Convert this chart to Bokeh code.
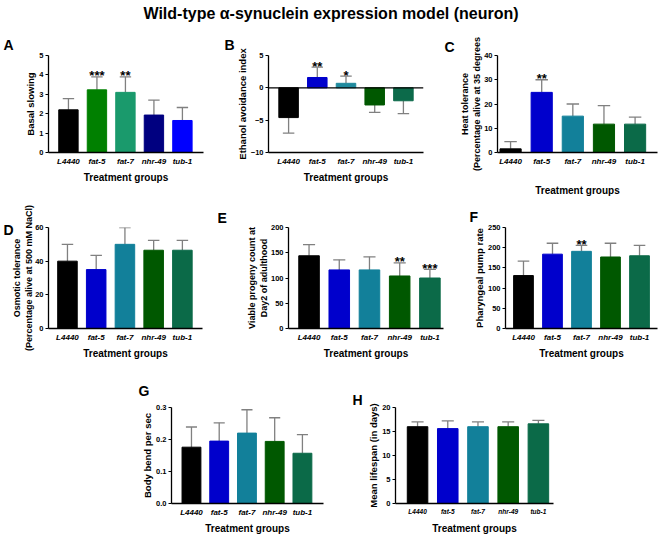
from bokeh.plotting import figure
from bokeh.layouts import column, row
from bokeh.models import (Range1d, FixedTicker, Span, ColumnDataSource,
                          NumeralTickFormatter, Spacer)
from bokeh.embed import file_html
from bokeh.resources import INLINE
from bokeh.core.properties import value

FONT = "Liberation Sans"
TITLE = "Wild-type α-synuclein expression model (neuron)"
XLABEL = "Treatment groups"

groups = ["L4440", "fat-5", "fat-7", "nhr-49", "tub-1"]

# Panel A - basal slowing
a_mean = [2.2, 3.23, 3.1, 1.93, 1.65]
a_sd = [0.58, 0.67, 0.8, 0.77, 0.67]
a_stars = ["", "***", "**", "", ""]
a_colors = ["#000000", "#008000", "#1a9a6c", "#000080", "#0000ff"]

# Panel B - ethanol avoidance
b_mean = [-4.6, 1.6, 0.7, -2.65, -2.0]
b_sd = [2.4, 1.6, 1.1, 1.15, 2.0]
b_stars = ["", "**", "*", "", ""]
b_colors = ["#000000", "#0000cc", "#1f8a9e", "#005800", "#0c6a4a"]

# common colours for C-H
c_colors = ["#000000", "#0000cc", "#12809a", "#005800", "#0b6a48"]

# Panel C - heat tolerance
c_mean = [1.5, 24.8, 15.0, 11.7, 11.7]
c_sd = [3.0, 5.2, 5.0, 7.6, 2.9]
c_stars = ["", "**", "", "", ""]

# Panel D - osmotic tolerance
d_mean = [40.0, 35.0, 50.0, 46.5, 46.5]
d_sd = [10.0, 8.5, 10.0, 5.8, 5.8]
d_stars = ["", "", "", "", ""]

# Panel E - viable progeny
e_mean = [144, 116, 116, 104, 100]
e_sd = [22, 20, 26, 26, 17]
e_stars = ["", "", "", "**", "***"]

# Panel F - pharyngeal pumping
f_mean = [131, 184, 191, 177, 180]
f_sd = [36, 27, 15, 34, 26]
f_stars = ["", "", "**", "", ""]

# Panel G - body bends
g_mean = [0.176, 0.195, 0.220, 0.194, 0.157]
g_sd = [0.063, 0.057, 0.073, 0.074, 0.058]
g_stars = ["", "", "", "", ""]

# Panel H - lifespan
h_mean = [16.0, 15.6, 16.0, 16.0, 16.6]
h_sd = [1.0, 1.6, 1.0, 1.0, 0.7]
h_stars = ["", "", "", "", ""]


def panel(letter, mean, sd, stars, colors, ylabel, yticks, yrange,
          fig, frame, pads, letter_x, letter_standoff, xlab_standoff=3,
          xtick_size="8px", ylab_size="9.5px", ylab_standoff=0, yfmt=None,
          zero_line=False):
    fx, fy, fw, fh = fig
    fl, ft, fr, fb = frame
    p = figure(width=fw, height=fh, output_backend="svg", toolbar_location=None,
               x_range=Range1d(-0.5 - pads[0], len(groups) - 0.5 + pads[1]),
               y_range=Range1d(*yrange), title=letter,
               min_border_left=fl - fx, min_border_right=fx + fw - fr,
               min_border_top=ft - fy, min_border_bottom=fy + fh - fb)
    p.outline_line_color = None
    p.grid.visible = False
    p.background_fill_color = "white"
    p.border_fill_color = "white"

    # panel letter
    p.title.align = "left"
    p.title.offset = letter_x - fl
    p.title.standoff = letter_standoff
    p.title.text_font = FONT
    p.title.text_font_style = "bold"
    p.title.text_font_size = "14px"
    p.title.text_color = "black"

    xs = list(range(len(groups)))
    tips = [m + s if m >= 0 else m - s for m, s in zip(mean, sd)]
    src = ColumnDataSource(dict(
        x=xs, mean=mean, tip=tips, color=colors, star=stars,
        cl=[x - 0.2 for x in xs], cr=[x + 0.2 for x in xs]))

    p.segment(x0="x", y0="mean", x1="x", y1="tip", source=src,
              line_color="#808080", line_width=1.3)
    p.segment(x0="cl", y0="tip", x1="cr", y1="tip", source=src,
              line_color="#808080", line_width=1.3)
    p.vbar(x="x", top="mean", bottom=0, width=0.68, source=src,
           fill_color="color", line_color="color", line_width=1)
    p.text(x="x", y="tip", text="star", source=src, text_align="center",
           text_baseline="alphabetic", y_offset=-1, text_font=value(FONT),
           text_font_style="bold", text_font_size="13px", text_color="black")

    if zero_line:
        p.add_layout(Span(location=0, dimension="width", line_color="black",
                          line_width=1.3))

    xa = p.xaxis[0]
    xa.ticker = FixedTicker(ticks=xs)
    xa.major_label_overrides = {i: g for i, g in enumerate(groups)}
    xa.major_tick_line_color = None
    xa.minor_tick_line_color = None
    xa.major_tick_out = 0
    xa.major_tick_in = 0
    xa.axis_line_width = 1.3
    xa.axis_line_color = "black"
    xa.major_label_text_font = FONT
    xa.major_label_text_font_style = "bold italic"
    xa.major_label_text_font_size = xtick_size
    xa.major_label_text_color = "black"
    xa.major_label_standoff = 4
    xa.axis_label = XLABEL
    xa.axis_label_text_font = FONT
    xa.axis_label_text_font_style = "bold"
    xa.axis_label_text_font_size = "10px"
    xa.axis_label_text_color = "black"
    xa.axis_label_standoff = xlab_standoff

    ya = p.yaxis[0]
    ya.ticker = FixedTicker(ticks=yticks)
    if yfmt:
        ya.formatter = NumeralTickFormatter(format=yfmt)
    ya.minor_tick_line_color = None
    ya.major_tick_out = 3
    ya.major_tick_in = 0
    ya.major_tick_line_width = 1
    ya.axis_line_width = 1.3
    ya.axis_line_color = "black"
    ya.major_label_text_font = FONT
    ya.major_label_text_font_style = "bold"
    ya.major_label_text_font_size = "7.5px"
    ya.major_label_text_color = "black"
    ya.major_label_standoff = 2
    ya.axis_label = ylabel
    ya.axis_label_text_font = FONT
    ya.axis_label_text_font_style = "bold"
    ya.axis_label_text_font_size = ylab_size
    ya.axis_label_text_color = "black"
    ya.axis_label_standoff = ylab_standoff
    return p


pA = panel("A", a_mean, a_sd, a_stars, a_colors, "Basal slowing",
           [0, 1, 2, 3, 4, 5], (0, 5),
           (0, 24, 222, 174), (48, 55, 203, 157), (0.2, 0.24), 3, 5)
pB = panel("B", b_mean, b_sd, b_stars, b_colors, "Ethanol avoidance index",
           [-10, -5, 0, 5], (-10, 5),
           (222, 24, 218, 174), (268, 55, 423, 156), (0.2, 0.2), 224, 5,
           zero_line=True)
pC = panel("C", c_mean, c_sd, c_stars, c_colors,
           "Heat tolerance\n(Percentage alive at 35 degrees",
           [0, 10, 20, 30, 40], (0, 40),
           (440, 24, 221, 174), (497, 50, 657, 156), (-0.08, 0.22), 444, 2,
           xlab_standoff=16, ylab_size="9px", ylab_standoff=-1)
pD = panel("D", d_mean, d_sd, d_stars, c_colors,
           "Osmotic tolerance\n(Percentage alive at 500 mM NaCl)",
           [0, 20, 40, 60], (0, 60),
           (0, 198, 218, 170), (48, 227, 202, 329), (0.16, 0.2), 3, -20,
           ylab_size="9px", ylab_standoff=-2)
pE = panel("E", e_mean, e_sd, e_stars, c_colors,
           "Viable progeny count at\nDay2 of adulthood",
           [0, 50, 100, 150, 200], (0, 200),
           (218, 198, 227, 170), (288, 219, 443, 328), (0.18, -0.05), 217, 4,
           ylab_size="9px", ylab_standoff=-1)
pF = panel("F", f_mean, f_sd, f_stars, c_colors, "Pharyngeal pump rate",
           [0, 50, 100, 150, 200, 250], (0, 250),
           (445, 198, 216, 170), (505, 226, 657, 329), (0.12, 0.12), 469, 5)
pG = panel("G", g_mean, g_sd, g_stars, c_colors, "Body bend per sec",
           [0.0, 0.1, 0.2, 0.3], (0, 0.3),
           (136, 368, 204, 168), (171, 407, 323, 507), (0.22, 0.26), 138, 17,
           yfmt="0.0")
pH = panel("H", h_mean, h_sd, h_stars, c_colors, "Mean lifespan (in days)",
           [0, 5, 10, 15, 20], (0, 20),
           (340, 368, 220, 168), (395, 399, 553, 507), (0.23, 0.0), 352, 0,
           xtick_size="6.5px", xlab_standoff=5)

pt = figure(width=661, height=24, output_backend="svg", toolbar_location=None,
            x_range=Range1d(0, 1), y_range=Range1d(0, 1), min_border=0)
pt.axis.visible = False
pt.grid.visible = False
pt.outline_line_color = None
pt.text(x=[0.5], y=[0.45], text=[TITLE], text_align="center",
        text_baseline="middle", text_font=value(FONT), text_font_style="bold",
        text_font_size="16px", text_color="black")

layout = column(pt,
                row(pA, pB, pC),
                row(pD, pE, pF),
                row(Spacer(width=136, height=168), pG, pH))

open("out.html", "w").write(file_html(layout, INLINE))
